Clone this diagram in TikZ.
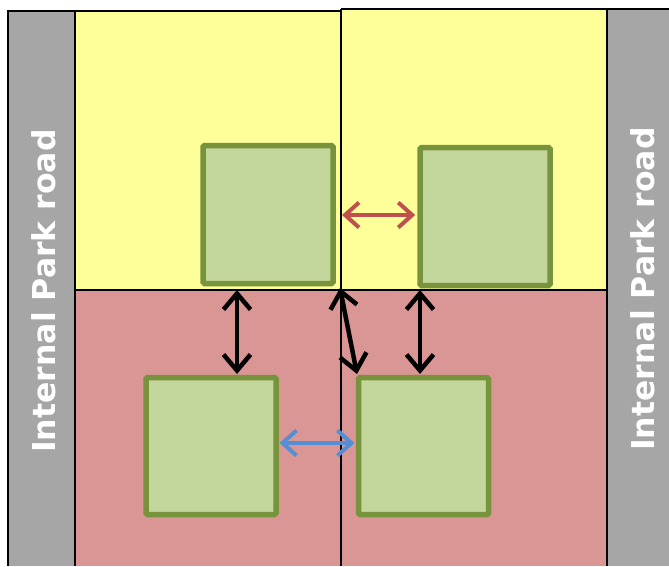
\documentclass[tikz,border=0pt]{standalone}
\usepackage{fontspec}
\newfontfamily\roadfont{DejaVu Sans}
\usetikzlibrary{arrows.meta}
\definecolor{roadgray}{HTML}{A6A6A6}
\definecolor{plotyellow}{HTML}{FFFF99}
\definecolor{plotpink}{HTML}{D99694}
\definecolor{boxfill}{HTML}{C3D69B}
\definecolor{boxline}{HTML}{77933C}
\definecolor{redarrow}{HTML}{C0504D}
\definecolor{bluearrow}{HTML}{558ED5}
\tikzset{
  unitbox/.style={draw=boxline, fill=boxfill, line width=5.5pt, rounded corners=1.5pt,
    minimum width=130pt, minimum height=138pt, inner sep=0pt},
  roadlabel/.style={text=white, font=\roadfont\bfseries\fontsize{31.5}{32}\selectfont, rotate=90, inner sep=0pt},
  twoway/.style={line width=4.5pt, {Straight Barb[length=16pt,width=27pt,line width=4.5pt]}-{Straight Barb[length=16pt,width=27pt,line width=4.5pt]}},
  twowaythin/.style={line width=4pt, {Straight Barb[length=14pt,width=25pt,line width=4pt]}-{Straight Barb[length=14pt,width=25pt,line width=4pt]}},
  edge/.style={draw=black, line width=1.8pt}
}
\begin{document}
\begin{tikzpicture}[x=1pt,y=-1pt]
\useasboundingbox (0,0) rectangle (669,566);
% roads
\fill[roadgray] (8,11) rectangle (75,566);
\fill[roadgray] (607,10) rectangle (669,566);
% plots
\fill[plotyellow] (75,11) rectangle (341,290);
\fill[plotyellow] (341,9) rectangle (607,290);
\fill[plotpink] (75,290) rectangle (341,566);
\fill[plotpink] (341,290) rectangle (607,566);
% borders
\draw[edge] (8,566) -- (8,11) -- (341,11);
\draw[edge] (341,9) -- (669,9);
\draw[edge] (75,11) -- (75,566);
\draw[edge] (607,9) -- (607,566);
\draw[edge] (341,9) -- (341,566);
\draw[edge] (75,290) -- (607,290);
% labels
\node[roadlabel] (roadL) at (44,291) {Internal Park road};
\node[roadlabel] (roadR) at (643,289) {Internal Park road};
% units
\node[unitbox] (tl) at (268,214.5) {};
\node[unitbox] (tr) at (485,216.5) {};
\node[unitbox, minimum height=137pt] (bl) at (211,446) {};
\node[unitbox, minimum height=137pt] (br) at (423.5,446) {};
% arrow anchors
\coordinate (redS) at (342,215);
\coordinate (redE) at (tr.west |- redS);
\coordinate (lTop) at (237,290);
\coordinate (lBot) at (237,374);
\coordinate (rTop) at (420,290);
\coordinate (rBot) at (420,374);
\coordinate (dTop) at (340,288);
\coordinate (dBot) at (357,374);
\coordinate (bS) at (279.5,443);
\coordinate (bE) at (354.5,443);
% arrows
\draw[twowaythin, redarrow] (redS) -- ([xshift=-2pt]redE);
\draw[twowaythin, bluearrow] (bS) -- (bE);
\draw[twoway] (lTop) -- (lBot);
\draw[twoway] (rTop) -- (rBot);
\draw[twoway] (dTop) -- (dBot);
\end{tikzpicture}
\end{document}
